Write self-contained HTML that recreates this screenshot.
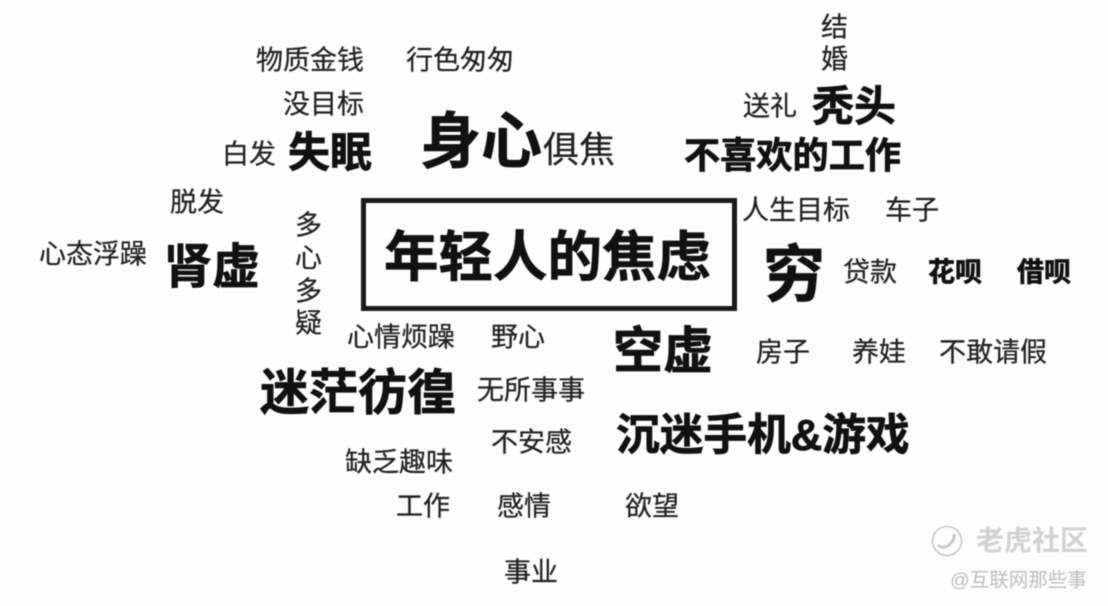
<!DOCTYPE html>
<html lang="zh-CN">
<head>
<meta charset="utf-8">
<title>年轻人的焦虑</title>
<style>
html,body{margin:0;padding:0;width:1108px;height:606px;overflow:hidden;background:#fdfdfd}
#c{position:relative;width:1108px;height:606px;overflow:hidden;font-family:"Liberation Sans","Noto Sans CJK SC",sans-serif;color:#222;filter:blur(.5px)}
#c span{position:absolute;white-space:nowrap;line-height:1;transform:translateY(calc(-50% + 2px));-webkit-text-stroke:.25px #222}
.s{font-size:27px;font-weight:400}
#c span.b{font-weight:700;color:#111;-webkit-text-stroke:.7px #111}
#c span.w{-webkit-text-stroke:0}
#box{position:absolute;left:361px;top:198px;width:366px;height:103px;border:5px solid #1a1a1a}
</style>
</head>
<body>
<div id="c">
<div id="box"></div>
<span class="s" style="left:256px;top:59px">物质金钱</span>
<span class="s" style="left:406px;top:59px">行色匆匆</span>
<span class="s" style="left:283px;top:103px">没目标</span>
<span class="s" style="left:222px;top:153px">白发</span>
<span class="b" style="left:288px;top:151px;font-size:42px">失眠</span>
<span class="b" style="left:420px;top:140px;font-size:61px">身心</span>
<span style="left:543px;top:148px;font-size:36px">俱焦</span>
<span class="s" style="left:821px;top:26px">结</span>
<span class="s" style="left:821px;top:58px">婚</span>
<span class="s" style="left:743px;top:105px">送礼</span>
<span class="b" style="left:812px;top:105px;font-size:42px">秃头</span>
<span class="b" style="left:684px;top:154px;font-size:36.2px">不喜欢的工作</span>
<span class="s" style="left:742px;top:209px">人生目标</span>
<span class="s" style="left:885px;top:209px">车子</span>
<span class="s" style="left:170px;top:201px">脱发</span>
<span class="s" style="left:39px;top:253px">心态浮躁</span>
<span class="b" style="left:164px;top:266px;font-size:48px">肾虚</span>
<span class="s" style="left:295px;top:224px">多</span>
<span class="s" style="left:295px;top:257px">心</span>
<span class="s" style="left:295px;top:290px">多</span>
<span class="s" style="left:295px;top:322px">疑</span>
<span class="b" style="left:384px;top:256px;font-size:54.5px">年轻人的焦虑</span>
<span class="b" style="left:763px;top:274px;font-size:62px">穷</span>
<span class="s" style="left:843px;top:271px">贷款</span>
<span class="s b" style="left:928px;top:271px">花呗</span>
<span class="s b" style="left:1017px;top:271px">借呗</span>
<span class="s" style="left:347px;top:336px">心情烦躁</span>
<span class="s" style="left:491px;top:336px">野心</span>
<span class="b" style="left:613px;top:349px;font-size:50px">空虚</span>
<span class="s" style="left:756px;top:351px">房子</span>
<span class="s" style="left:852px;top:351px">养娃</span>
<span class="s" style="left:939px;top:351px">不敢请假</span>
<span class="b" style="left:260px;top:392px;font-size:49px">迷茫彷徨</span>
<span class="s" style="left:477px;top:389px">无所事事</span>
<span class="b" style="left:616px;top:434px;font-size:43.7px">沉迷手机&amp;游戏</span>
<span class="s" style="left:491px;top:441px">不安感</span>
<span class="s" style="left:345px;top:461px">缺乏趣味</span>
<span class="s" style="left:396px;top:505px">工作</span>
<span class="s" style="left:497px;top:505px">感情</span>
<span class="s" style="left:625px;top:505px">欲望</span>
<span class="s" style="left:504px;top:571px">事业</span>
<svg style="position:absolute;left:930px;top:524px" width="36" height="36" viewBox="0 0 36 36">
<circle cx="17" cy="17" r="14.5" fill="none" stroke="#c8c8c8" stroke-width="1.6"/>
<path d="M8 21c4 4 9 2 12-1s5-6 4-10" fill="none" stroke="#c8c8c8" stroke-width="3"/>
</svg>
<span class="w" style="left:976px;top:539px;font-size:28px;font-weight:700;color:#d2d2d2">老虎社区</span>
<span class="w" style="left:950px;top:579px;font-size:19.5px;color:#bdbdbd">@互联网那些事</span>
</div>
</body>
</html>
